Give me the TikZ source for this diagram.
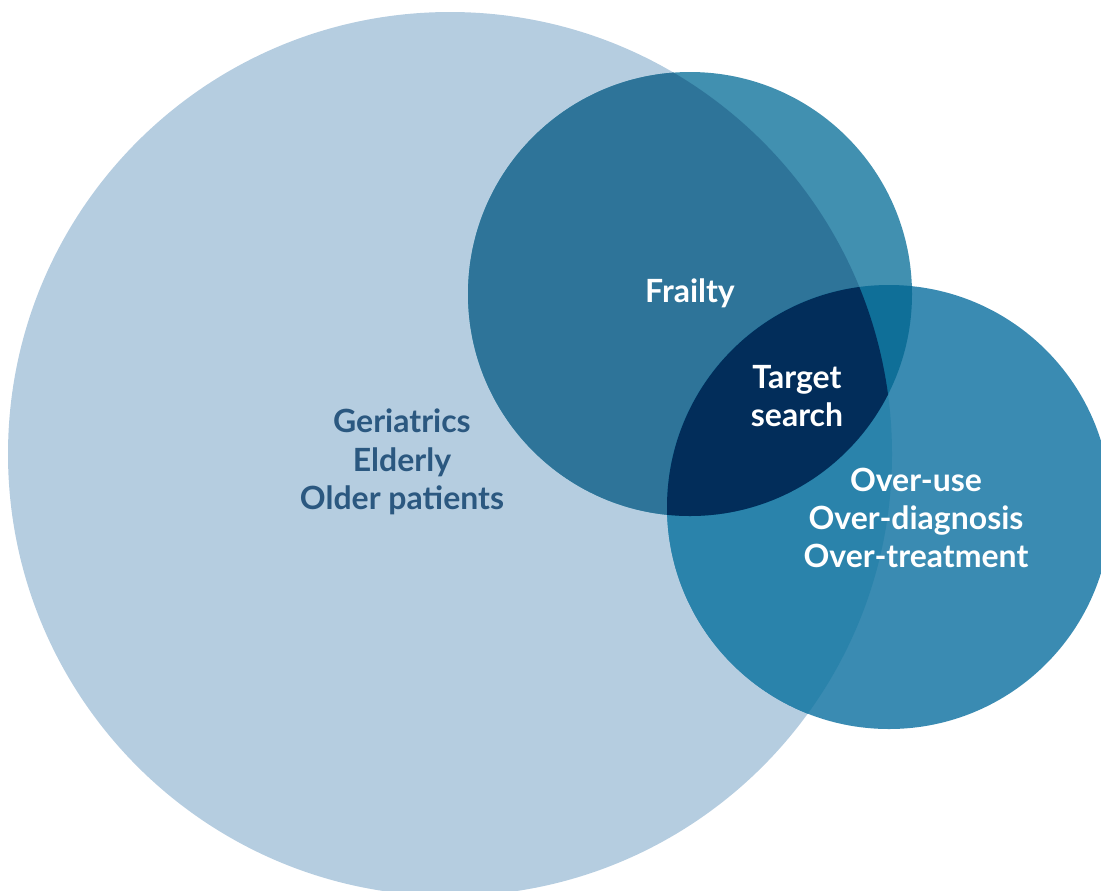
\documentclass[tikz,border=0pt]{standalone}
\usepackage{fontspec}
\setmainfont{Lato}
\usetikzlibrary{positioning}
\definecolor{bigblue}{HTML}{B5CDE0}
\definecolor{bigtext}{HTML}{2B5880}
\definecolor{frailonly}{HTML}{4190B0}
\definecolor{frailbig}{HTML}{2E7499}
\definecolor{overonly}{HTML}{3A8BB2}
\definecolor{overbig}{HTML}{2A83AB}
\definecolor{frailover}{HTML}{0F6F98}
\definecolor{targetblue}{HTML}{022D5A}
\tikzset
{
    setlabel/.style = {align=center, font=\fontsize{18.2}{21.8}\selectfont\bfseries, text=white},
    biglabel/.style = {setlabel, text=bigtext}
}

\begin{document}
\begin{tikzpicture}[x=0.02cm, y=-0.02cm]
\useasboundingbox (0,0) rectangle (1101,890);
% the three sets
\coordinate (big) at (450,454);
\coordinate (frail) at (690,294);
\coordinate (over) at (889,507);
\fill[bigblue] (big) circle[radius=442];
\fill[frailonly] (frail) circle[radius=222];
\fill[overonly] (over) circle[radius=222];
% overlaps
\begin{scope}
  \clip (big) circle[radius=442];
  \fill[frailbig] (frail) circle[radius=222];
  \fill[overbig] (over) circle[radius=222];
\end{scope}
\begin{scope}
  \clip (frail) circle[radius=222];
  \fill[frailover] (over) circle[radius=222];
  \clip (big) circle[radius=442];
  \fill[targetblue] (over) circle[radius=222];
\end{scope}
% labels
\node[biglabel] (geriatrics) at (402,462) {Geriatrics\\Elderly\\Older patients};
\node[setlabel] (frailty) at (690,293) {Frailty};
\node[setlabel] (target) at (797,396) {Target\\search};
\node[setlabel] (overuse) at (916,518) {Over-use\\Over-diagnosis\\Over-treatment};
\end{tikzpicture}
\end{document}
